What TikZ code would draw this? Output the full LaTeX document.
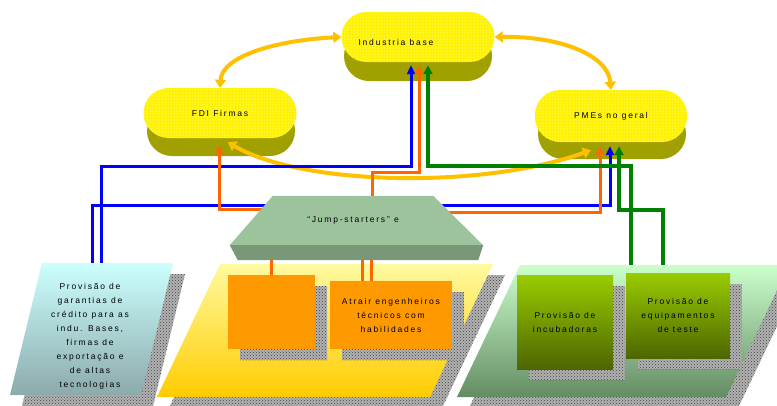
\documentclass[tikz,border=0pt]{standalone}
\usepackage{fontspec}
\setmainfont{Liberation Sans}
\newfontfamily\lbl[LetterSpace=21]{Liberation Sans}
\usetikzlibrary{arrows.meta,patterns,shadows}

\definecolor{gold}{RGB}{255,192,0}
\definecolor{olivedark}{RGB}{160,160,0}
\definecolor{jumplight}{RGB}{157,195,157}
\definecolor{jumpdark}{RGB}{120,152,120}
\definecolor{orbox}{RGB}{255,153,0}
\definecolor{lineorange}{RGB}{255,102,0}
\definecolor{linegreen}{RGB}{0,128,0}
\definecolor{boxgreen}{RGB}{153,204,0}
\definecolor{boxolive}{RGB}{77,102,0}

\pgfdeclarelayer{pills}
\pgfdeclarelayer{links}
\pgfdeclarelayer{panels}
\pgfsetlayers{pills,links,panels,main}

\begin{document}
\begin{tikzpicture}[x=1pt, y=-1pt,
    every node/.style={font=\lbl\fontsize{8.5}{14}\selectfont, align=center, inner sep=0pt},
    pilltop/.style={fill=yellow, postaction={pattern=dots, pattern color=white}, rounded corners=25pt, minimum width=153pt, minimum height=50pt},
    pillside/.style={fill=olivedark, rounded corners=25pt, minimum width=148pt, minimum height=50pt},
    hatchshadow/.style={general shadow={fill=black!30, shadow xshift=12pt, shadow yshift=-11pt},
        general shadow={pattern=crosshatch dots, pattern color=black!75, shadow xshift=12pt, shadow yshift=-11pt}},
    orbox/.style={fill=orbox, hatchshadow},
    grbox/.style={top color=boxgreen, bottom color=boxolive, hatchshadow},
    goldarr/.style={gold, line width=4pt, {Triangle[width=11pt,length=8pt]}-{Triangle[width=11pt,length=8pt]}},
    blueline/.style={blue, line width=3pt, -{Triangle[width=8pt,length=9pt]}},
    orangeline/.style={lineorange, line width=3pt, -{Triangle[width=8pt,length=9pt]}},
    greenline/.style={linegreen, line width=3.5pt, -{Triangle[width=9pt,length=9pt]}},
    stub/.style={lineorange, line width=3pt}]

    \useasboundingbox (0,0) rectangle (777,405) ;

    \node[minimum width=160pt, minimum height=49pt] at (353,220.5) (jump) {“Jump-starters” e} ;

    \node at (90,336) (garantias) {Provisão de\\garantias de\\crédito para as\\indu. Bases,\\firmas de\\exportação e\\de altas\\tecnologias} ;
    \coordinate (garL) at (92,263) ;
    \coordinate (garR) at (101,263) ;

    \node[orbox, minimum width=87pt, minimum height=74pt] at (271.5,312) (laranja) {} ;
    \node[orbox, minimum width=122pt, minimum height=68pt] at (391,315) (atrair) {Atrair engenheiros\\técnicos com\\habilidades} ;
    \node[grbox, minimum width=96pt, minimum height=94pt] at (565,322) (incub) {Provisão de\\incubadoras} ;
    \node[grbox, minimum width=104pt, minimum height=85pt] at (678,315.5) (equip) {Provisão de\\equipamentos\\de teste} ;

    \begin{pgfonlayer}{pills}
    \fill[white] (0,0) rectangle (777,405) ;
    \node[pillside] at (418,56) (baseside) {} ;
    \node[pilltop, label={[xshift=-22pt,yshift=-5pt]center:Industria base}] at (418,37) (base) {} ;
    \node[pillside] at (221,131) (fdiside) {} ;
    \node[pilltop] at (220,113) (fdi) {FDI Firmas} ;
    \node[pillside] at (612,134) (pmesside) {} ;
    \node[pilltop, minimum width=152pt, minimum height=52pt] at (611,116) (pmes) {PMEs no geral} ;

    \draw[goldarr] (fdi.north) .. controls (222,55) and (280,40) .. (base.west) ;
    \draw[goldarr] (base.east) .. controls (560,36) and (608,55) .. (pmes.north) ;
    \draw[goldarr] ([xshift=-20pt,yshift=-8pt]pmes.south) .. controls (480,190) and (300,185) .. ([xshift=8pt,yshift=-4pt]fdi.south) ;
    \end{pgfonlayer}

    \begin{pgfonlayer}{links}
    \draw[blueline] (garL) |- ([xshift=-1pt]pmes.south |- 0,205) -- ([xshift=-1pt,yshift=-4pt]pmes.south) ;
    \draw[blueline] (garR) |- ([xshift=-7pt]base.south |- 0,166) -- ([xshift=-7pt,yshift=-3pt]base.south) ;
    \draw[orangeline] (jump.center |- 0,209) -| ([xshift=-1pt,yshift=-7pt]fdi.south) ;
    \draw[orangeline] ([xshift=19pt]jump.north) |- ([xshift=1pt]base.south |- 0,172) -- ([xshift=1pt,yshift=-3pt]base.south) ;
    \draw[orangeline] (jump.center |- 0,212) -| ([xshift=-11pt,yshift=-4pt]pmes.south) ;
    \draw[greenline] ([xshift=-47pt]equip.north) |- ([xshift=10pt]base.south |- 0,166) -- ([xshift=10pt,yshift=-3pt]base.south) ;
    \draw[greenline] ([xshift=-15pt]equip.north) |- ([xshift=8pt]pmes.south |- 0,210) -- ([xshift=8pt,yshift=-4pt]pmes.south) ;
    \end{pgfonlayer}

    \begin{pgfonlayer}{panels}
    \path[top color={rgb,255:red,204;green,255;blue,255}, bottom color={rgb,255:red,140;green,170;blue,170}, hatchshadow] (42,263) -- (173,263) -- (141,395) -- (10,395) -- cycle ;
    \path[top color={rgb,255:red,255;green,250;blue,160}, bottom color={rgb,255:red,255;green,204;blue,0}, hatchshadow] (220,264) -- (493,264) -- (430,397) -- (157,397) -- cycle ;
    \path[top color={rgb,255:red,204;green,255;blue,204}, bottom color={rgb,255:red,100;green,140;blue,100}, hatchshadow] (520,265) -- (789,265) -- (726,397) -- (457,397) -- cycle ;
    \draw[stub] (laranja.north) -- (laranja.north |- jump.south) ;
    \draw[stub] ([xshift=-29pt]atrair.north) -- ([xshift=-29pt]atrair.north |- jump.south) ;
    \draw[stub] ([xshift=-20pt]atrair.north) -- ([xshift=-20pt]atrair.north |- jump.south) ;
    \fill[jumplight] (jump.north west) -- (jump.north east) -- ([xshift=50pt]jump.south east) -- ([xshift=-43pt]jump.south west) -- cycle ;
    \fill[jumpdark] ([xshift=-43pt]jump.south west) -- ([xshift=50pt]jump.south east) -- ([xshift=45pt,yshift=-15pt]jump.south east) -- ([xshift=-35pt,yshift=-15pt]jump.south west) -- cycle ;
    \end{pgfonlayer}
\end{tikzpicture}
\end{document}
